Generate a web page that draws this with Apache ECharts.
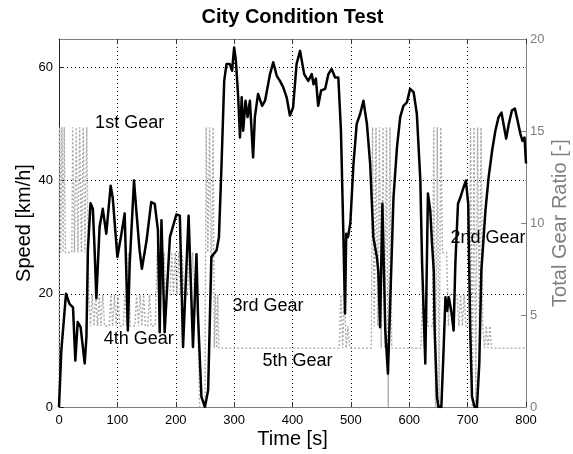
<!DOCTYPE html>
<html>
<head>
<meta charset="utf-8">
<script src="https://cdn.jsdelivr.net/npm/echarts@6/dist/echarts.min.js"></script>
<style>
html,body{margin:0;padding:0;background:#fff;}
#chart{width:573px;height:454px;}
</style>
</head>
<body>
<div id="chart"></div>
<script>
var titleText = 'City Condition Test';
var xName = 'Time [s]';
var yLeftName = 'Speed [km/h]';
var yRightName = 'Total Gear Ratio [-]';

// speed [time s, km/h]
var speedData = [
[0,0],[4,10],[12,20],[18,18.2],[24,17.6],[28,8.2],[32,15],[37,14.1],[44,7.7],[47,12.4],
[49.5,27.7],[54,36],[58,35],[61,27.7],[64,19.2],[69.5,31.8],[75,35],[81,30.6],[88.5,39.1],[92,37],
[100,26.5],[107,30.6],[112.5,34.2],[118,13.5],[121,25],[128.5,40],[132.5,34.7],[138,27.7],[142,24.4],[150,29.4],
[158,36.2],[164,35.9],[169.5,31.2],[172.5,13.2],[175.5,33],[181,13.2],[190,30],[195,31.8],[201,34],[207,33.8],
[212.5,10.6],[222,33.8],[229.5,10.6],[235.5,27],[238,16.5],[244,1.8],[250,0],[255.5,3],[261,26.5],[270,27.7],
[274,30],[278.5,43],[283,57.6],[287,60.6],[292.5,60.6],[296.5,59.4],[300,63.5],[303,61.2],[307,54.7],[310,47.6],
[313,54.7],[315.5,48.8],[319.5,54.1],[323,51.2],[327,54.1],[332.5,44.1],[335.5,51.2],[341,55.3],[348,53.2],[353,54.1],
[361.5,58.8],[367,60.9],[373,58.5],[378.5,57.6],[384,56.5],[390,54.7],[395.5,51.5],[401,52.9],[407,60.6],[413,62.9],
[420,58.8],[427,57.6],[433,58.8],[436,57],[440,58],[444,53.2],[449,55.9],[456,56.2],[461.5,58.8],[467,59.7],
[473,58.2],[478.5,58.2],[483,48.8],[487,31.2],[490,16.5],[492,30.6],[495,30],[499,32.4],[504.5,43],[510,50],
[516,51.8],[521.5,54.1],[527.5,50],[533,43],[538.5,30],[544.5,26.5],[547,24],[550,14.1],[554,35.9],[559,13.5],
[563.5,5.9],[567.5,18.8],[573,37],[579,45.9],[584.5,51.2],[590,53.2],[596,53.8],[601.5,56.2],[607.5,55.6],[613,51.8],
[619,40],[622,25.4],[627.5,7.7],[632,37.7],[636,34.7],[639,28.9],[642,24.1],[643.5,13.5],[647.5,1.8],[650,0],
[655,0],[659,10.6],[662,19.4],[665,17],[667.5,19.4],[672,17],[676,13.5],[679,25.4],[683.5,35.9],[687.5,37],
[693,38.8],[697,40],[701,35.9],[704.5,13.5],[707.5,1.8],[712,0],[716,0],[720,7.7],[723.5,24.1],[730.5,34.7],
[736,40.6],[742,45.3],[747.5,48.8],[753,51.2],[758,52],[761.5,50],[766,47.4],[770.5,50],[776,52.4],[781,52.7],
[785.5,50.6],[790.5,48.2],[794,47],[797.5,47.6],[800,43]
];

// total gear ratio [time s, ratio]
var gearData = [
[0,0],[1,15.2],[3,8.4],[5,15.2],[7,8.4],[9,15.2],[11,8.4],
[22,8.4],[23.5,15.2],[26.5,8.4],[29.5,15.2],[32.5,8.4],[35.5,15.2],[38.5,8.4],[41.5,15.2],[44.5,8.4],[47.5,15.2],[50,8.4],
[51,6.1],[54,4.4],[57,6.1],[60,4.4],[63,6.1],[66,4.4],[69,6.1],[72,4.4],[75,6.1],[78,4.4],
[86,4.4],[89,6.1],[92,4.4],[95,6.1],[98,4.4],[101,6.1],[104,4.4],
[110,4.4],[113,6.1],[116,4.4],[119,8.4],[122,4.4],
[130,4.4],[133,6.1],[136,4.4],[139,6.1],[142,4.4],[145,6.1],[148,4.4],
[152,4.4],[155,6.1],[158,4.4],
[165,4.4],[168,8.4],[171,6.1],[174,8.4],[177,6.1],[180,8.4],[183,6.1],
[190,6.1],[193,8.4],[196,6.1],[199,8.4],[202,6.1],[205,8.4],[208,6.1],[211,8.4],[214,6.1],
[220,6.1],[223,8.4],[226,6.1],[229,8.4],[232,6.1],[235,8.4],[238,4.4],[241,0],
[250,0],[252,15.2],[255,8.4],[258,15.2],[261,6.1],[264,15.2],[266,3.2],[268,6.1],[270,3.2],[272,6.1],[274,3.2],
[480,3.2],[483,6.1],[486,3.2],[489,6.1],[492,3.2],[495,4.4],[498,3.2],
[535,3.2],[537,15.2],[540,4.4],[543,15.2],[546,4.4],[549,15.2],[552,3.2],[555,15.2],[558,3.2],[561,15.2],[564,0],[567,15.2],[570,3.2],[572,3.2],
[620,3.2],[623,6.1],[626,3.2],[629,6.1],[632,4.4],
[640,4.4],[642,15.2],[645,0],[648,15.2],[651,0],[654,15.2],[657,8.4],
[664,8.4],[667,4.4],[670,6.1],
[682,6.1],[685,4.4],[688,6.1],[691,4.4],[694,6.1],[697,4.4],
[703,4.4],[705,15.2],[708,0],[711,15.2],[714,0],[717,15.2],[720,4.4],[723,15.2],[726,4.4],
[729,3.2],[732,4.4],[735,3.2],[738,4.4],[741,3.2],
[800,3.2]
];

// gear annotations [label, time s, speed km/h]
var gearLabels = ['1st Gear','4th Gear','3rd Gear','5th Gear','2nd Gear'];
var gearLabelT = [121, 136.6, 358, 408.6, 734.8];
var gearLabelV = [50.2, 12.0, 17.9, 8.1, 29.9];

var xTicks = {min:0, max:800, interval:100};
var yLeftTicks = {min:0, max:65, interval:20};
var yRightTicks = {min:0, max:20, interval:5};

var tickFont = '"Liberation Sans Narrow", "Liberation Sans", Arial, sans-serif';
var mainFont = '"Liberation Sans", Arial, sans-serif';
var grayAxis = '#808080';

var chart = echarts.init(document.getElementById('chart'), null, {renderer:'canvas'});
var option = {
  backgroundColor:'#fff',
  animation:false,
  grid:{left:59, right:47, top:39, bottom:47, containLabel:false, outerBoundsMode:'none'},
  xAxis:[{
    type:'value', min:xTicks.min, max:xTicks.max, interval:xTicks.interval, position:'bottom',
    name:xName, nameLocation:'middle', nameGap:22, nameMoveOverlap:false,
    nameTextStyle:{fontFamily:mainFont, fontSize:20, color:'#000'},
    axisLine:{show:true, onZero:false, lineStyle:{color:grayAxis, width:1}},
    axisTick:{show:true, inside:true, length:5, lineStyle:{color:'#333'}},
    axisLabel:{fontFamily:tickFont, fontSize:13, color:'#000', margin:7},
    splitLine:{show:true, showMinLine:false, showMaxLine:false, lineStyle:{color:'#000', type:[1,3], width:1}}
  },{
    type:'value', min:xTicks.min, max:xTicks.max, interval:xTicks.interval, position:'top',
    axisLine:{show:true, onZero:false, lineStyle:{color:grayAxis, width:1}},
    axisTick:{show:true, inside:true, length:5, lineStyle:{color:'#333'}},
    axisLabel:{show:false}, splitLine:{show:false}
  }],
  yAxis:[{
    type:'value', min:yLeftTicks.min, max:yLeftTicks.max, interval:yLeftTicks.interval, position:'left',
    name:yLeftName, nameLocation:'middle', nameGap:25, nameMoveOverlap:false,
    nameTextStyle:{fontFamily:mainFont, fontSize:20, color:'#000'},
    axisLine:{show:true, onZero:false, lineStyle:{color:'#222', width:1}},
    axisTick:{show:true, inside:true, length:5, lineStyle:{color:'#222'}},
    axisLabel:{fontFamily:tickFont, fontSize:13, color:'#000', margin:6, showMaxLabel:false,
      formatter:function(v){return (v % 20 === 0) ? String(v) : '';}},
    splitLine:{show:true, showMinLine:false, showMaxLine:false, lineStyle:{color:'#000', type:[1,3], width:1}}
  },{
    type:'value', min:yRightTicks.min, max:yRightTicks.max, interval:yRightTicks.interval, position:'right',
    name:yRightName, nameLocation:'middle', nameGap:24, nameMoveOverlap:false,
    nameTextStyle:{fontFamily:mainFont, fontSize:20, color:grayAxis},
    axisLine:{show:true, onZero:false, lineStyle:{color:grayAxis, width:1}},
    axisTick:{show:true, inside:true, length:5, lineStyle:{color:grayAxis}},
    axisLabel:{fontFamily:tickFont, fontSize:13, color:grayAxis, margin:4},
    splitLine:{show:false}
  }],
  series:[{
    name:'Gear', type:'line', xAxisIndex:0, yAxisIndex:1, data:gearData,
    showSymbol:false, symbol:'none', z:2,
    lineStyle:{color:'#ababab', width:1.4, type:[2,2]}
  },{
    name:'Speed', type:'line', xAxisIndex:0, yAxisIndex:0, data:speedData,
    showSymbol:false, symbol:'none', z:3,
    lineStyle:{color:'#000', width:2.5, join:'round'}
  }]
};
chart.setOption(option);

var g = gearLabels.map(function(txt, i){
  var p = chart.convertToPixel({xAxisIndex:0, yAxisIndex:0}, [gearLabelT[i], gearLabelV[i]]);
  return {
    type:'text', x:p[0], y:p[1], z:10,
    style:{text:txt, fill:'#000', font:'18px ' + mainFont, align:'center', verticalAlign:'middle'}
  };
});
var leftPx = chart.convertToPixel({xAxisIndex:0}, xTicks.min);
var rightPx = chart.convertToPixel({xAxisIndex:0}, xTicks.max);
g.push({
  type:'text', x:(leftPx + rightPx) / 2, y:17, z:10,
  style:{text:titleText, fill:'#000', font:'bold 20px ' + mainFont, align:'center', verticalAlign:'middle'}
});
chart.setOption({graphic:g});
</script>
</body>
</html>
